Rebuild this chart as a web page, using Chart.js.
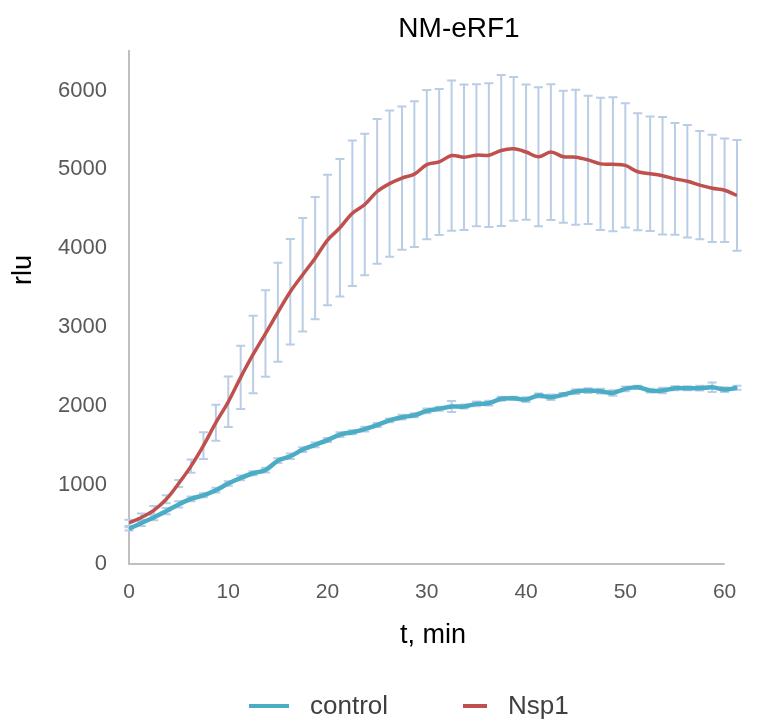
<!DOCTYPE html>
<html>
<head>
<meta charset="utf-8">
<script src="https://cdn.jsdelivr.net/npm/chart.js@4.4.1/dist/chart.umd.min.js"></script>
<style>
html,body{margin:0;padding:0;background:#ffffff;}
#wrap{width:757px;height:723px;position:relative;}
</style>
</head>
<body>
<div id="wrap"><canvas id="c" width="757" height="723"></canvas></div>
<script>
// ---------- data ----------
const chartTitle = 'NM-eRF1';
const xAxisTitle = 't, min';
const yAxisTitle = 'rlu';
const seriesNames = ['control', 'Nsp1'];

const timeMin = [0, 1.25, 2.5, 3.75, 5, 6.25, 7.5, 8.75, 10, 11.25,
  12.5, 13.75, 15, 16.25, 17.5, 18.75, 20, 21.25, 22.5, 23.75,
  25, 26.25, 27.5, 28.75, 30, 31.25, 32.5, 33.75, 35, 36.25,
  37.5, 38.75, 40, 41.25, 42.5, 43.75, 45, 46.25, 47.5, 48.75,
  50, 51.25, 52.5, 53.75, 55, 56.25, 57.5, 58.75, 60, 61.25];

const controlMean = [445, 520, 590, 670, 755, 825, 871, 935, 1020, 1090,
  1150, 1190, 1310, 1365, 1450, 1510, 1570, 1640, 1670, 1710,
  1760, 1820, 1860, 1885, 1940, 1966, 1995, 1995, 2029, 2037,
  2093, 2100, 2084, 2134, 2113, 2147, 2185, 2197, 2189, 2168,
  2219, 2240, 2197, 2197, 2227, 2227, 2227, 2240, 2210, 2232];

const controlErr = [20, 40, 35, 40, 40, 30, 25, 30, 30, 30,
  25, 30, 30, 35, 30, 30, 25, 30, 25, 30,
  25, 25, 30, 25, 30, 25, 70, 25, 30, 30,
  25, 20, 30, 25, 35, 20, 30, 30, 30, 35,
  30, 20, 25, 35, 25, 25, 30, 60, 30, 25];

const nsp1Mean = [520, 590, 680, 820, 1020, 1240, 1500, 1790, 2055, 2365,
  2655, 2920, 3190, 3450, 3665, 3875, 4105, 4260, 4445, 4555,
  4720, 4820, 4890, 4940, 5060, 5095, 5175, 5155, 5180, 5180,
  5240, 5260, 5220, 5160, 5220, 5160, 5155, 5120, 5070, 5065,
  5050, 4970, 4945, 4920, 4880, 4850, 4800, 4760, 4735, 4670];

const nsp1Err = [40, 50, 55, 50, 45, 85, 170, 228, 320, 400,
  490, 548, 628, 668, 720, 775, 827, 870, 922, 895,
  917, 927, 907, 922, 945, 925, 952, 922, 900, 910,
  957, 912, 857, 882, 860, 835, 855, 812, 837, 850,
  787, 742, 725, 745, 707, 712, 685, 680, 655, 702];

const xTickValues = [0, 10, 20, 30, 40, 50, 60];
const yTickValues = [0, 1000, 2000, 3000, 4000, 5000, 6000];

// ---------- styles ----------
const FONT = '"Liberation Sans", Arial, Helvetica, sans-serif';
const controlColor = '#4BACC6';
const nsp1Color = '#C0504D';
const errColor = '#B9CDE5';
const axisColor = '#BFBFBF';

const toXY = (xs, ys) => xs.map((x, i) => ({x: x, y: ys[i]}));

const errorBarPlugin = {
  id: 'errorBars',
  beforeDatasetsDraw(chart) {
    const {ctx, scales: {x, y}, chartArea} = chart;
    // x axis line from 0 to last labelled tick
    ctx.save();
    ctx.strokeStyle = axisColor;
    ctx.lineWidth = 2;
    ctx.beginPath();
    ctx.moveTo(x.getPixelForValue(xTickValues[0]), chartArea.bottom);
    ctx.lineTo(x.getPixelForValue(xTickValues[xTickValues.length - 1]), chartArea.bottom);
    ctx.stroke();
    ctx.restore();

    chart.data.datasets.forEach((ds) => {
      const errs = ds.errors;
      if (!errs) return;
      ctx.save();
      ctx.strokeStyle = errColor;
      ctx.lineWidth = 2;
      ds.data.forEach((p, i) => {
        const px = x.getPixelForValue(p.x);
        const yt = y.getPixelForValue(p.y + errs[i]);
        const yb = y.getPixelForValue(p.y - errs[i]);
        ctx.beginPath();
        ctx.moveTo(px, yt); ctx.lineTo(px, yb);
        ctx.moveTo(px - 4.5, yt); ctx.lineTo(px + 4.5, yt);
        ctx.moveTo(px - 4.5, yb); ctx.lineTo(px + 4.5, yb);
        ctx.stroke();
      });
      ctx.restore();
    });
  }
};

const textPlugin = {
  id: 'texts',
  afterDraw(chart) {
    const {ctx} = chart;
    ctx.save();
    // title
    ctx.fillStyle = '#000000';
    ctx.font = '28px ' + FONT;
    ctx.textAlign = 'center';
    ctx.textBaseline = 'middle';
    ctx.fillText(chartTitle, 459, 29);
    // y axis title
    ctx.save();
    ctx.translate(24, 270);
    ctx.rotate(-Math.PI / 2);
    ctx.font = '27px ' + FONT;
    ctx.fillText(yAxisTitle, 0, 0);
    ctx.restore();
    // legend
    const colors = [controlColor, nsp1Color];
    const lines = [[249, 289], [463, 487]];
    const textX = [310, 508];
    ctx.font = '26px ' + FONT;
    ctx.textAlign = 'left';
    ctx.textBaseline = 'middle';
    for (let i = 0; i < 2; i++) {
      ctx.strokeStyle = colors[i];
      ctx.lineWidth = 4;
      ctx.beginPath();
      ctx.moveTo(lines[i][0], 706);
      ctx.lineTo(lines[i][1], 706);
      ctx.stroke();
      ctx.fillStyle = '#404040';
      ctx.fillText(seriesNames[i], textX[i], 707);
    }
    ctx.restore();
  }
};

new Chart(document.getElementById('c'), {
  type: 'line',
  data: {
    datasets: [
      {
        label: seriesNames[0],
        data: toXY(timeMin, controlMean),
        errors: controlErr,
        borderColor: controlColor,
        backgroundColor: controlColor,
        borderWidth: 4.5,
        pointRadius: 0,
        tension: 0.35,
        fill: false,
        order: 1
      },
      {
        label: seriesNames[1],
        data: toXY(timeMin, nsp1Mean),
        errors: nsp1Err,
        borderColor: nsp1Color,
        backgroundColor: nsp1Color,
        borderWidth: 3.5,
        pointRadius: 0,
        tension: 0.35,
        fill: false,
        order: 0
      }
    ]
  },
  options: {
    responsive: false,
    animation: false,
    devicePixelRatio: 1,
    layout: {padding: {left: 0, right: 20, top: 51, bottom: 0}},
    plugins: {
      legend: {display: false},
      title: {display: false},
      tooltip: {enabled: false}
    },
    scales: {
      x: {
        type: 'linear',
        min: 0,
        max: timeMin[timeMin.length - 1],
        afterBuildTicks(scale) { scale.ticks = xTickValues.map(v => ({value: v})); },
        afterFit(scale) { scale.height = 159; },
        ticks: {
          font: {size: 21, family: FONT},
          color: '#595959',
          padding: 16,
          maxRotation: 0,
          callback: (v) => String(v)
        },
        grid: {display: false, drawTicks: false},
        border: {display: false},
        title: {
          display: true,
          text: xAxisTitle,
          color: '#000000',
          font: {size: 27, family: FONT},
          padding: {top: 4, bottom: 71}
        }
      },
      y: {
        type: 'linear',
        min: 0,
        max: 6500,
        afterBuildTicks(scale) { scale.ticks = yTickValues.map(v => ({value: v})); },
        afterFit(scale) { scale.width = 129; },
        ticks: {
          font: {size: 22, family: FONT},
          color: '#595959',
          padding: 22,
          callback: (v) => String(v)
        },
        grid: {display: false, drawTicks: false},
        border: {display: true, color: axisColor, width: 2}
      }
    }
  },
  plugins: [errorBarPlugin, textPlugin]
});
</script>
</body>
</html>
